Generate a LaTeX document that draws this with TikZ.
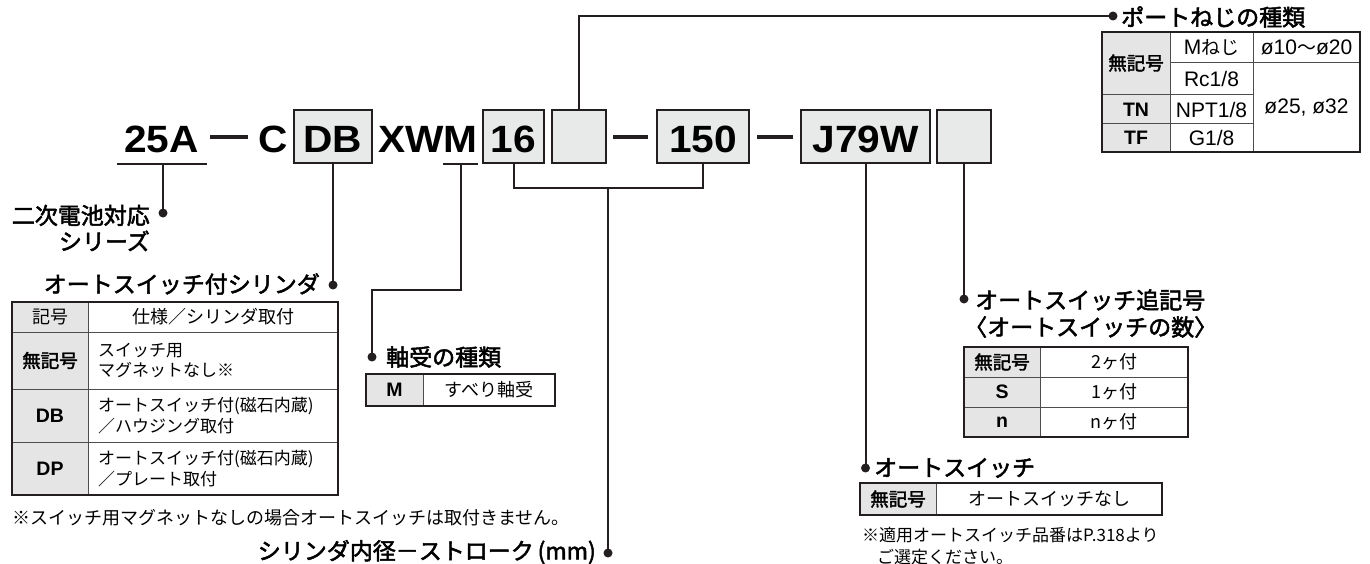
\documentclass[tikz,border=0pt]{standalone}
\usepackage{fontspec}
\setmainfont{Noto Sans CJK JP}
\newfontfamily\jpmed[FakeBold=2.2]{Noto Sans CJK JP}
\newfontfamily\latf{Liberation Sans}
\newfontfamily\codefam[FakeStretch=1.07]{Liberation Sans}
\definecolor{ink}{HTML}{231F20}
\definecolor{boxgray}{HTML}{E8E9E9}
\definecolor{keygray}{HTML}{E5E5E5}
\definecolor{gridc}{HTML}{4D4D4D}
\newcommand\fCode{\codefam\bfseries\fontsize{38}{38}\selectfont}
\newcommand\fTitle{\jpmed\fontsize{23}{26}\selectfont}
\newcommand\fCell{\fontsize{17}{20.5}\selectfont}
\newcommand\fCellB{\fontsize{18}{21}\selectfont}
\newcommand\fKey{\jpmed\fontsize{18.5}{21}\selectfont}
\newcommand\fKeyL{\latf\bfseries\fontsize{19.5}{21}\selectfont}
\newcommand\fNoteA{\fontsize{18}{21}\selectfont}
\newcommand\fNoteB{\fontsize{17}{21}\selectfont}
\newcommand\fPort{\latf\fontsize{21}{24}\selectfont}
\tikzset{
  conn/.style={draw=ink, line width=2pt},
  codebox/.style={draw=ink, line width=1.8pt, fill=boxgray, minimum height=53, inner sep=0, text height=33, text depth=0, font=\fCode},
  codetxt/.style={anchor=base, inner sep=0, font=\fCode},
  dashbar/.style={draw=ink, line width=3.5pt},
  dotn/.style={circle, fill=ink, inner sep=0, minimum size=9},
  ttl/.style={inner sep=0, font=\fTitle},
  tcell/.style={inner sep=0, font=\fCell},
  tcellb/.style={inner sep=0, font=\fCellB},
  tkey/.style={inner sep=0, font=\fKey},
  tkeyl/.style={inner sep=0, font=\fKeyL},
  tport/.style={inner sep=0, font=\fPort},
  tgrid/.style={draw=gridc, line width=1pt},
  tframe/.style={draw=ink, line width=1.5pt},
  ttop/.style={draw=ink, line width=2.8pt},
  notea/.style={inner sep=0, font=\fNoteA, anchor=west},
  noteb/.style={inner sep=0, font=\fNoteB, anchor=west},
}
\begin{document}
\begin{tikzpicture}[x=1pt,y=-1pt]
\useasboundingbox (0,0) rectangle (1370,564);

% ---------- model code line ----------
\node[codetxt] (t25a) at (161.5,153) {25A};
\coordinate (ul25a) at (117,164);
\coordinate (ul25b) at (207,164);
\draw[conn] (ul25a) -- (ul25b);
\coordinate (ul25m) at (163,164);
\coordinate (dsh1a) at (210,137);
\coordinate (dsh1b) at (248,137);
\draw[dashbar] (dsh1a) -- (dsh1b);
\node[codetxt] (tc) at (273,153) {C};
\node[codebox, minimum width=78] (bdb) at (333,136.5) {DB};
\node[codetxt] (txwm) at (428,153) {XWM};
\coordinate (ulma) at (443,164);
\coordinate (ulmb) at (478,164);
\draw[conn] (ulma) -- (ulmb);
\coordinate (ulmm) at (461,164);
\node[codebox, minimum width=61] (b16) at (513.5,136.5) {16};
\node[codebox, minimum width=54] (bport) at (579,136.5) {};
\coordinate (dsh2a) at (613,137);
\coordinate (dsh2b) at (648,137);
\draw[dashbar] (dsh2a) -- (dsh2b);
\node[codebox, minimum width=92] (b150) at (703,136.5) {150};
\coordinate (dsh3a) at (757,137);
\coordinate (dsh3b) at (793,137);
\draw[dashbar] (dsh3a) -- (dsh3b);
\node[codebox, minimum width=129] (bj79) at (865.5,136.5) {J79W};
\node[codebox, minimum width=54] (bnum) at (964,136.5) {};

% ---------- dots ----------
\node[dotn] (d1) at (163,213) {};
\node[dotn] (d2) at (333,285) {};
\node[dotn] (d3) at (372,357) {};
\node[dotn] (d4) at (608,553) {};
\node[dotn] (d5) at (865.5,468) {};
\node[dotn] (d6) at (964,299) {};
\node[dotn] (d7) at (1113,16) {};

% ---------- connectors ----------
\draw[conn] (ul25m) -- (d1.center);
\draw[conn] (bdb.south) -- (d2.center);
\draw[conn] (ulmm) -- ++(0,126) -| (d3.center);
\draw[conn] (b16.south) -- ++(0,24) -| (b150.south);
\coordinate (brk) at (608,187);
\draw[conn] (brk) -- (d4.center);
\draw[conn] (bj79.south) -- (d5.center);
\draw[conn] (bnum.south) -- (d6.center);
\draw[conn] (bport.north) |- (d7.center);

% ---------- labels ----------
\node[ttl, align=right, anchor=east] (l1) at (150,228) {二次電池対応\\シリーズ};
\node[ttl, anchor=east] (l2) at (320,284) {オートスイッチ付シリンダ};
\node[ttl, anchor=west] (l3) at (386,357) {軸受の種類};
\node[ttl, anchor=east] (l4) at (596,552) {シリンダ内径－ストローク\,(mm)};
\node[ttl, anchor=west] (l5) at (874,468) {オートスイッチ};
\node[ttl, anchor=west] (l6a) at (975,300) {オートスイッチ追記号};
\node[ttl, anchor=west] (l6b) at (964,327) {〈オートスイッチの数〉};
\node[ttl, anchor=west] (l7) at (1121,17) {ポートねじの種類};

% ---------- table: cylinder ----------
\fill[keygray] (12,302) rectangle (88,495);
\draw[tgrid] (12,332) -- (338,332) (12,389) -- (338,389) (12,442) -- (338,442) (88,302) -- (88,495);
\draw[tframe] (12,302) rectangle (338,495);
\draw[ttop] (12,302) -- (338,302);
\node[tcellb] (c0k) at (50,317) {記号};
\node[tcellb] (c0v) at (213,317) {仕様／シリンダ取付};
\node[tkey] (c1k) at (50,360.5) {無記号};
\node[tcell, anchor=west, align=left] (c1v) at (98,360.5) {スイッチ用\\マグネットなし※};
\node[tkeyl] (c2k) at (50,415.5) {DB};
\node[tcell, anchor=west, align=left] (c2v) at (98,415.5) {オートスイッチ付(磁石内蔵)\\／ハウジング取付};
\node[tkeyl] (c3k) at (50,468.5) {DP};
\node[tcell, anchor=west, align=left] (c3v) at (98,468.5) {オートスイッチ付(磁石内蔵)\\／プレート取付};
\node[notea] (n1) at (12,518) {※スイッチ用マグネットなしの場合オートスイッチは取付きません。};

% ---------- table: bearing ----------
\fill[keygray] (366,374) rectangle (423,406);
\draw[tgrid] (423,374) -- (423,406);
\draw[tframe] (366,374) rectangle (555,406);
\draw[ttop] (366,374) -- (555,374);
\node[tkeyl] (mk) at (394.5,390) {M};
\node[tcellb] (mv) at (489,390) {すべり軸受};

% ---------- table: auto switch ----------
\fill[keygray] (860,483) rectangle (936,515);
\draw[tgrid] (936,483) -- (936,515);
\draw[tframe] (860,483) rectangle (1162,515);
\draw[ttop] (860,483) -- (1162,483);
\node[tkey] (ak) at (898,499) {無記号};
\node[tcellb] (av) at (1049,499) {オートスイッチなし};
\node[noteb] (n2a) at (862,535) {※適用オートスイッチ品番はP.318より};
\node[noteb] (n2b) at (877,557) {ご選定ください。};

% ---------- table: number of switches ----------
\fill[keygray] (964,347) rectangle (1040,437);
\draw[tgrid] (964,377) -- (1188,377) (964,407) -- (1188,407) (1040,347) -- (1040,437);
\draw[tframe] (964,347) rectangle (1188,437);
\draw[ttop] (964,347) -- (1188,347);
\node[tkey] (sk1) at (1002,362) {無記号};
\node[tkeyl] (sk2) at (1002,392) {S};
\node[tkeyl] (sk3) at (1002,422) {n};
\node[tcellb] (sv1) at (1114,362) {2ヶ付};
\node[tcellb] (sv2) at (1114,392) {1ヶ付};
\node[tcellb] (sv3) at (1114,422) {nヶ付};

% ---------- table: port thread ----------
\fill[keygray] (1102,32) rectangle (1170,152);
\draw[tgrid] (1170,63) -- (1360,63) (1102,95) -- (1253,95) (1102,124) -- (1253,124)
  (1170,32) -- (1170,152) (1253,32) -- (1253,152);
\draw[tframe] (1102,32) rectangle (1360,152);
\draw[ttop] (1102,32) -- (1360,32);
\node[tkey] (pk1) at (1136,63) {無記号};
\node[tkeyl] (pk2) at (1136,109.5) {TN};
\node[tkeyl] (pk3) at (1136,138) {TF};
\node[tport] (pv1) at (1211.5,47.5) {M{\rmfamily\fontsize{19}{21}\selectfont ねじ}};
\node[tport] (pv2) at (1211.5,79) {Rc1/8};
\node[tport] (pv3) at (1211.5,109.5) {NPT1/8};
\node[tport] (pv4) at (1211.5,138) {G1/8};
\node[tport] (pw1) at (1306.5,47.5) {ø10{\rmfamily\fontsize{19}{21}\selectfont 〜}ø20};
\node[tport] (pw2) at (1306.5,108) {ø25, ø32};
\end{tikzpicture}
\end{document}
